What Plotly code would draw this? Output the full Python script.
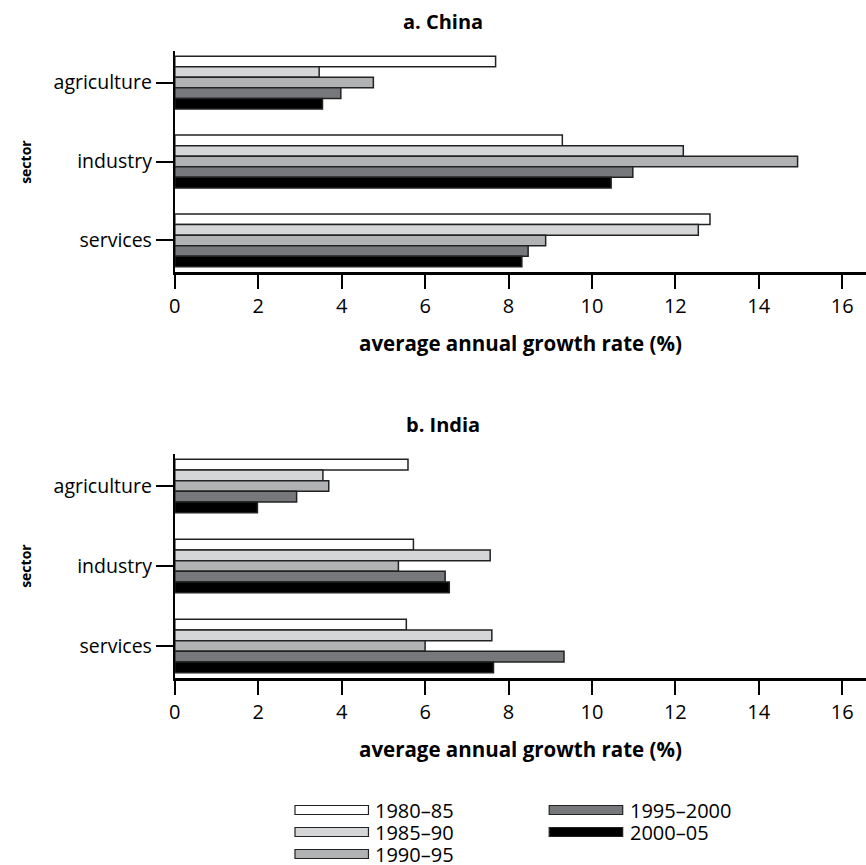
import plotly.graph_objects as go

sectors = ["agriculture", "industry", "services"]
periods = ["1980–85", "1985–90", "1990–95", "1995–2000", "2000–05"]
colors = ["#ffffff", "#d5d6d8", "#b1b2b4", "#77787b", "#000000"]

china = {
    "1980–85": [7.69, 9.29, 12.83],
    "1985–90": [3.46, 12.19, 12.55],
    "1990–95": [4.76, 14.93, 8.89],
    "1995–2000": [3.98, 10.98, 8.47],
    "2000–05": [3.54, 10.46, 8.32],
}
india = {
    "1980–85": [5.59, 5.72, 5.55],
    "1985–90": [3.55, 7.56, 7.60],
    "1990–95": [3.69, 5.36, 6.00],
    "1995–2000": [2.92, 6.48, 9.33],
    "2000–05": [1.98, 6.58, 7.64],
}
x_ticks = [0, 2, 4, 6, 8, 10, 12, 14, 16]

W, H = 866, 865
FONT = "Open Sans"

fig = go.Figure()
for data, xa, ya in [(china, "x", "y"), (india, "x2", "y2")]:
    for p, c in zip(periods, colors):
        fig.add_trace(go.Bar(
            y=list(range(len(sectors))), x=data[p], orientation="h", name=p,
            marker=dict(color=c, line=dict(color="#222222", width=1.5)),
            xaxis=xa, yaxis=ya, showlegend=False,
        ))

def px(x):
    return x / W

def py(y):
    return 1 - y / H

xcommon = dict(range=[0, 16.57], tickvals=x_ticks, ticks="outside", ticklen=14, tickwidth=2,
               tickcolor="black", showline=True, linecolor="black", linewidth=3,
               showgrid=False, zeroline=False, tickfont=dict(size=20, color="black", family=FONT),
               domain=[px(170), 1])
ycommon = dict(range=[2.4, -0.4], tickvals=list(range(len(sectors))), ticktext=sectors,
               ticks="outside", ticklen=17, tickwidth=1.5, tickcolor="black",
               showline=True, linecolor="black", linewidth=2, showgrid=False, zeroline=False,
               tickfont=dict(size=19.5, color="black", family=FONT))

fig.update_layout(
    width=W, height=H, margin=dict(l=0, r=0, t=0, b=0),
    plot_bgcolor="white", paper_bgcolor="white",
    barmode="group", bargap=0.33, bargroupgap=0,
    font=dict(family=FONT, color="black"),
    xaxis=dict(**xcommon, anchor="y"),
    yaxis=dict(**ycommon, domain=[py(272), py(51)], anchor="x"),
    xaxis2=dict(**xcommon, anchor="y2"),
    yaxis2=dict(**ycommon, domain=[py(678), py(454)], anchor="x2"),
)

ann = []
def text(x, y, s, size=17, bold=False, angle=0, xanchor="center", height=None):
    a = dict(x=px(x), y=py(y), xref="paper", yref="paper", text=f"<b>{s}</b>" if bold else s,
             showarrow=False, font=dict(size=size, family=FONT, color="black"),
             textangle=angle, xanchor=xanchor, yanchor="middle", borderpad=0)
    if height:
        a["height"] = height
    ann.append(a)

text(440, 21, "a. China", size=20, bold=True)
text(518, 343, "average annual growth rate (%)", size=20.5, bold=True)
text(19, 162, "sector", size=14, bold=True, angle=-90)
text(440, 424, "b. India", size=20, bold=True)
text(518, 749, "average annual growth rate (%)", size=20.5, bold=True)
text(19, 566, "sector", size=14, bold=True, angle=-90)

# legend (two columns)
shapes = []
legend_pos = [(291, 810), (291, 832), (291, 854), (547, 810), (547, 832)]
for (lx, ly), p, c in zip(legend_pos, periods, colors):
    shapes.append(dict(type="rect", xref="paper", yref="paper", x0=px(lx), x1=px(lx + 74),
                       y0=py(ly + 4.5), y1=py(ly - 4.5), fillcolor=c,
                       line=dict(color="#222222", width=1.2)))
    text(lx + 80, ly, p, size=20, xanchor="left", height=20)

fig.update_layout(annotations=ann, shapes=shapes)
fig.write_html("out.html", config={"displayModeBar": False},
               post_script="document.body.style.margin='0px';document.body.style.overflow='hidden';")
